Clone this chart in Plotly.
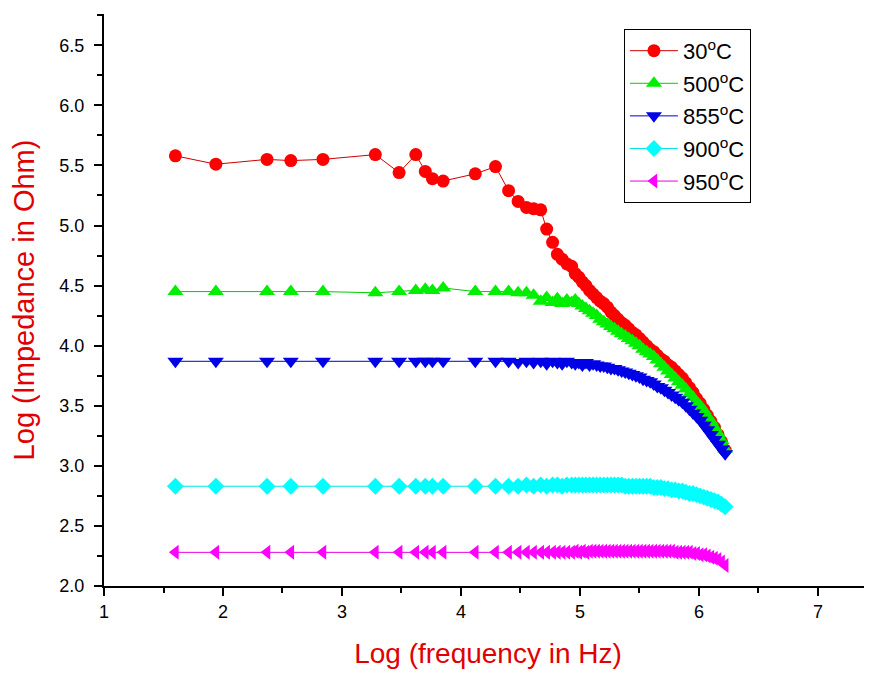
import plotly.graph_objects as go

# Log(frequency in Hz) shared by all series
log_freq = [1.60, 1.94, 2.37, 2.57, 2.84, 3.28, 3.48, 3.62, 3.70, 3.76, 3.85, 4.12, 4.29,
            4.40, 4.48, 4.55, 4.61, 4.67, 4.72, 4.77, 4.81, 4.85, 4.89, 4.93, 4.96, 4.99,
            5.02, 5.05, 5.08, 5.11, 5.14, 5.17, 5.20, 5.23, 5.26, 5.29, 5.32, 5.35, 5.38,
            5.41, 5.44, 5.47, 5.50, 5.53, 5.56, 5.59, 5.62, 5.65, 5.68, 5.71, 5.74, 5.77,
            5.80, 5.83, 5.86, 5.89, 5.92, 5.95, 5.98, 6.01, 6.04, 6.07, 6.10, 6.13, 6.16,
            6.19, 6.22]

z_30 = [5.58, 5.51, 5.55, 5.54, 5.55, 5.59, 5.44, 5.59, 5.45, 5.39, 5.37, 5.43, 5.49,
        5.29, 5.20, 5.15, 5.14, 5.13, 4.97, 4.86, 4.76, 4.72, 4.68, 4.66, 4.60, 4.57,
        4.53, 4.50, 4.46, 4.43, 4.40, 4.37, 4.35, 4.32, 4.28, 4.25, 4.22, 4.19, 4.17,
        4.14, 4.11, 4.09, 4.06, 4.03, 4.00, 3.97, 3.95, 3.92, 3.89, 3.87, 3.84, 3.82,
        3.79, 3.76, 3.73, 3.69, 3.65, 3.61, 3.56, 3.52, 3.47, 3.42, 3.37, 3.32, 3.26,
        3.20, 3.13]

z_500 = [4.45, 4.45, 4.45, 4.45, 4.45, 4.44, 4.45, 4.46, 4.47, 4.46, 4.48, 4.45, 4.45,
         4.45, 4.44, 4.44, 4.42, 4.37, 4.40, 4.36, 4.39, 4.35, 4.38, 4.36, 4.38, 4.35,
         4.33, 4.31, 4.29, 4.27, 4.25, 4.22, 4.20, 4.18, 4.16, 4.14, 4.12, 4.10, 4.08,
         4.06, 4.04, 4.02, 4.00, 3.97, 3.95, 3.93, 3.91, 3.88, 3.85, 3.82, 3.79, 3.76,
         3.73, 3.70, 3.67, 3.64, 3.60, 3.57, 3.53, 3.50, 3.46, 3.41, 3.37, 3.32, 3.27,
         3.21, 3.14]

z_855 = [3.87, 3.87, 3.87, 3.87, 3.87, 3.87, 3.87, 3.87, 3.87, 3.87, 3.87, 3.87, 3.87,
         3.87, 3.86, 3.87, 3.86, 3.87, 3.85, 3.87, 3.86, 3.85, 3.87, 3.86, 3.85, 3.86,
         3.84, 3.86, 3.84, 3.85, 3.84, 3.83, 3.83, 3.82, 3.81, 3.81, 3.80, 3.79, 3.78,
         3.77, 3.76, 3.75, 3.74, 3.72, 3.71, 3.70, 3.68, 3.66, 3.65, 3.63, 3.61, 3.59,
         3.57, 3.55, 3.53, 3.50, 3.47, 3.44, 3.41, 3.38, 3.34, 3.30, 3.26, 3.22, 3.18,
         3.14, 3.10]

z_900 = [2.83, 2.83, 2.83, 2.83, 2.83, 2.83, 2.83, 2.83, 2.83, 2.83, 2.83, 2.83, 2.83,
         2.83, 2.83, 2.84, 2.83, 2.84, 2.83, 2.84, 2.84, 2.83, 2.84, 2.84, 2.84, 2.84,
         2.84, 2.84, 2.84, 2.84, 2.84, 2.84, 2.84, 2.84, 2.84, 2.84, 2.84, 2.84, 2.83,
         2.83, 2.83, 2.83, 2.83, 2.83, 2.83, 2.83, 2.82, 2.82, 2.82, 2.81, 2.81, 2.80,
         2.80, 2.79, 2.79, 2.78, 2.77, 2.77, 2.76, 2.75, 2.74, 2.73, 2.72, 2.71, 2.70,
         2.68, 2.66]

z_950 = [2.28, 2.28, 2.28, 2.28, 2.28, 2.28, 2.28, 2.28, 2.28, 2.28, 2.28, 2.28, 2.28,
         2.28, 2.28, 2.28, 2.28, 2.28, 2.28, 2.28, 2.28, 2.28, 2.28, 2.28, 2.29, 2.28,
         2.29, 2.28, 2.29, 2.29, 2.29, 2.29, 2.29, 2.29, 2.29, 2.29, 2.29, 2.29, 2.29,
         2.29, 2.29, 2.29, 2.29, 2.29, 2.29, 2.29, 2.29, 2.29, 2.29, 2.29, 2.29, 2.29,
         2.28, 2.28, 2.28, 2.28, 2.28, 2.27, 2.27, 2.26, 2.26, 2.25, 2.24, 2.23, 2.22,
         2.20, 2.17]

series_names = ["30<sup>o</sup>C", "500<sup>o</sup>C", "855<sup>o</sup>C",
                "900<sup>o</sup>C", "950<sup>o</sup>C"]
series_values = [z_30, z_500, z_855, z_900, z_950]
colors = ["#FF0000", "#00EE00", "#0000E6", "#00FFFF", "#FF00FF"]
line_colors = ["#D00000", "#00CC00", "#0000CC", "#00E5E5", "#E600E6"]
symbols = ["circle", "triangle-up", "triangle-down", "diamond", "triangle-left"]
sizes = [13, 14, 14, 13, 13]

FONT = "Liberation Sans, Arial, sans-serif"

fig = go.Figure()
for i, (name, vals) in enumerate(zip(series_names, series_values)):
    fig.add_trace(go.Scatter(
        x=log_freq, y=vals, name=name, mode="lines+markers",
        legendgroup=f"g{i}",
        line=dict(color=line_colors[i], width=1),
        marker=dict(symbol=symbols[i], size=sizes[i], color=colors[i], line=dict(width=0)),
    ))

# page has an 8px body margin, so the figure is drawn 8px smaller and offset
fig.update_layout(
    width=864, height=666,
    margin=dict(l=96, r=0, t=6, b=88),
    paper_bgcolor="white", plot_bgcolor="white",
    font=dict(family=FONT, color="black"),
    showlegend=True,
    legend=dict(
        x=0.677, y=0.974, xanchor="left", yanchor="top",
        bgcolor="white", bordercolor="black", borderwidth=1,
        font=dict(family=FONT, size=22, color="black"),
        itemwidth=48, tracegroupgap=1,
    ),
)

fig.update_xaxes(
    range=[1, 7.454], tickmode="linear", tick0=1, dtick=1,
    showline=True, linecolor="black", linewidth=2,
    ticks="outside", ticklen=8, tickwidth=2, tickcolor="black",
    minor=dict(ticks="outside", ticklen=5, tickwidth=2, tickcolor="black", dtick=0.5, tick0=1),
    showgrid=False, zeroline=False,
    tickfont=dict(family=FONT, size=18, color="black"),
    title=dict(text="Log (frequency in Hz)", font=dict(family=FONT, size=28, color="#E00000"), standoff=23),
)
fig.update_yaxes(
    range=[2, 6.76], tickmode="linear", tick0=2, dtick=0.5, tickformat=".1f",
    showline=True, linecolor="black", linewidth=2,
    ticks="outside", ticklen=8, tickwidth=2, tickcolor="black",
    minor=dict(ticks="outside", ticklen=5, tickwidth=2, tickcolor="black", dtick=0.25, tick0=2),
    showgrid=False, zeroline=False,
    tickfont=dict(family=FONT, size=18, color="black"),
    ticklabelstandoff=6,
    title=dict(text="Log (Impedance in Ohm)", font=dict(family=FONT, size=29, color="#E00000"), standoff=19),
)

fig.write_html("out.html")
